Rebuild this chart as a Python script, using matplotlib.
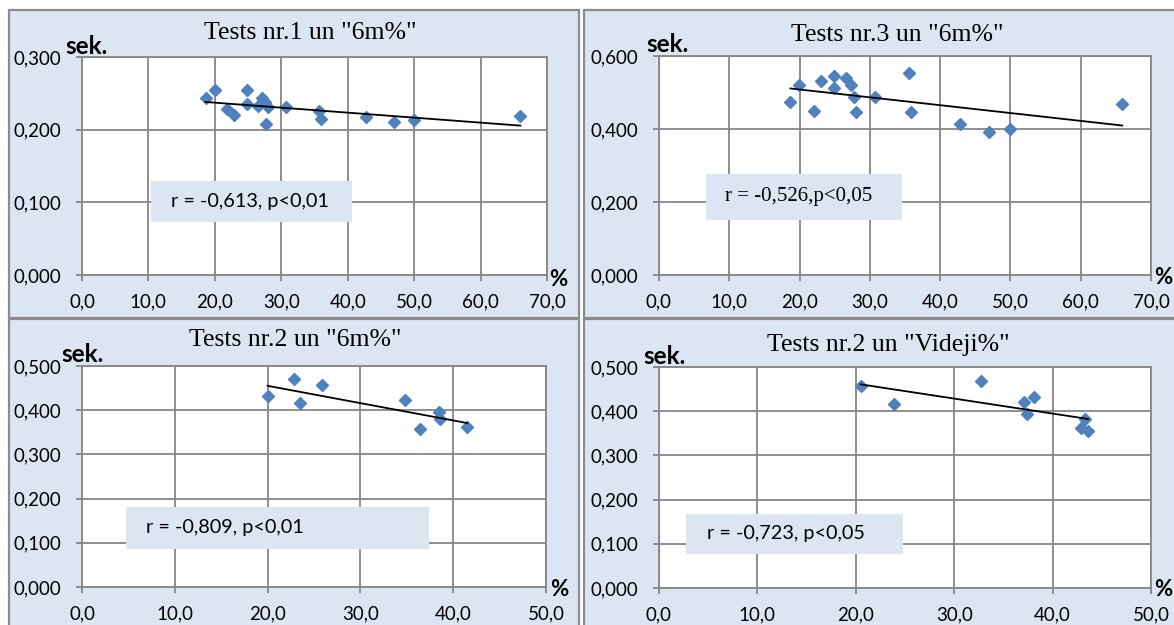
import numpy as np
import matplotlib
matplotlib.use("Agg")
import matplotlib.pyplot as plt
from matplotlib.patches import Rectangle

# ---- data -------------------------------------------------------------
# Test 1 vs "6m%"
x_t1 = [18.6, 20.0, 21.9, 22.9, 24.9, 24.9, 26.5, 27.1, 27.5, 27.7, 28.0, 30.7, 35.7, 36.0, 42.8, 47.0, 50.0, 66.0]
y_t1 = [0.243, 0.254, 0.229, 0.220, 0.254, 0.235, 0.232, 0.243, 0.238, 0.208, 0.231, 0.231, 0.226, 0.215, 0.217, 0.211, 0.213, 0.219]

# Test 3 vs "6m%"
x_t3 = [18.7, 19.9, 22.1, 23.0, 24.9, 24.9, 26.6, 27.3, 27.7, 28.0, 30.7, 35.6, 35.8, 42.8, 46.9, 49.9, 65.9]
y_t3 = [0.474, 0.521, 0.448, 0.531, 0.544, 0.513, 0.539, 0.521, 0.488, 0.447, 0.489, 0.553, 0.446, 0.413, 0.393, 0.399, 0.468]

# Test 2 vs "6m%"
x_t2 = [20.0, 22.8, 23.5, 25.9, 34.8, 36.4, 38.5, 38.6, 41.5]
y_t2 = [0.432, 0.471, 0.417, 0.458, 0.422, 0.357, 0.397, 0.381, 0.362]

# Test 2 vs "Videji%"
x_v2 = [20.5, 23.9, 32.7, 37.1, 37.4, 38.1, 42.9, 43.3, 43.6]
y_v2 = [0.456, 0.417, 0.469, 0.421, 0.394, 0.432, 0.361, 0.383, 0.356]

titles = ['Tests nr.1 un "6m%"', 'Tests nr.3 un "6m%"',
          'Tests nr.2 un "6m%"', 'Tests nr.2 un "Videji%"']
stats = ["r = -0,613, p<0,01", "r = -0,526,p<0,05",
         "r = -0,809, p<0,01", "r = -0,723, p<0,05"]
x_limits = [70, 70, 50, 50]
y_limits = [0.3, 0.6, 0.5, 0.5]
y_steps = [0.1, 0.2, 0.1, 0.1]

# ---- layout (pixels) --------------------------------------------------
W, H = 1174, 625
fig = plt.figure(figsize=(W / 100, H / 100), dpi=100)
fig.patch.set_facecolor("white")

PANEL_BG = "#DCE6F2"
BORDER = "#8C8C8C"
GRID = "#868686"
MARKER = "#4F81BD"
SANS = ["Lato", "DejaVu Sans"]
SERIF = ["Liberation Serif", "DejaVu Serif"]


def fx(x):
    return x / W


def fy(y):
    return 1 - y / H


frames = [(9, 10, 579, 318), (584, 10, 1185, 318),
          (9, 319, 579, 640), (584, 319, 1185, 640)]
plot_boxes = [(82, 57, 547, 275), (659, 56, 1151, 275),
              (82, 366, 546, 587), (659, 367, 1151, 588)]
title_pos = [(310, 33), (897, 35), (295, 340), (888, 345)]
sek_pos = [(65, 47), (646, 44), (61, 354), (643, 356)]
pct_pos = [(558, 280), (1163, 277), (559, 589), (1163, 590)]
stat_boxes = [(151, 181, 352, 222), (706, 174, 902, 220),
              (126, 507, 429, 549), (686, 514, 903, 554)]
stat_text_x = [171, 725, 146, 707]
stat_fonts = [SANS, SERIF, SANS, SANS]
stat_sizes = [14.3, 15, 14.3, 14.3]

for (x0, y0, x1, y1) in frames:
    fig.add_artist(Rectangle((fx(x0), fy(y1)), (x1 - x0) / W, (y1 - y0) / H,
                             transform=fig.transFigure, facecolor=PANEL_BG,
                             edgecolor=BORDER, lw=1.6, zorder=0))

series = [(x_t1, y_t1), (x_t3, y_t3), (x_t2, y_t2), (x_v2, y_v2)]

for i, (xs, ys) in enumerate(series):
    l, t, r, b = plot_boxes[i]
    ax = fig.add_axes([fx(l), fy(b), (r - l) / W, (b - t) / H])
    ax.set_facecolor("white")
    ax.set_xlim(0, x_limits[i])
    ax.set_ylim(0, y_limits[i])

    xt = np.arange(0, x_limits[i] + 0.01, 10)
    yt = np.arange(0, y_limits[i] + 1e-9, y_steps[i])
    ax.set_xticks(xt)
    ax.set_xticklabels([f"{v:.1f}".replace(".", ",") for v in xt])
    ax.set_yticks(yt)
    ax.set_yticklabels([f"{v:.3f}".replace(".", ",") for v in yt])
    for lab in ax.get_xticklabels() + ax.get_yticklabels():
        lab.set_family(SANS)
        lab.set_fontsize(13.5)
        lab.set_color("black")

    ax.grid(True, color=GRID, lw=1.3)
    ax.set_axisbelow(True)
    for sp in ax.spines.values():
        sp.set_color(GRID)
        sp.set_linewidth(1.3)
    ax.tick_params(axis="both", direction="out", length=4, width=1.3, color=GRID)
    ax.tick_params(axis="y", pad=11)
    ax.tick_params(axis="x", pad=9)

    ax.plot(xs, ys, linestyle="none", marker="D", ms=6.3,
            color=MARKER, mec=MARKER, zorder=3, clip_on=False)

    k, c = np.polyfit(xs, ys, 1)
    xl = np.array([min(xs), max(xs)])
    ax.plot(xl, k * xl + c, color="black", lw=1.3, zorder=4)

    # statistics box
    sx0, sy0, sx1, sy1 = stat_boxes[i]
    ax.add_patch(Rectangle((fx(sx0), fy(sy1)), (sx1 - sx0) / W, (sy1 - sy0) / H,
                           transform=fig.transFigure, facecolor=PANEL_BG,
                           edgecolor="none", zorder=5, clip_on=False))
    ax.text(fx(stat_text_x[i]), fy((sy0 + sy1) / 2), stats[i],
            transform=fig.transFigure, ha="left", va="center",
            family=stat_fonts[i], fontsize=stat_sizes[i], zorder=6)

    tx, ty = title_pos[i]
    fig.text(fx(tx), fy(ty), titles[i], ha="center", va="center",
             family=SERIF, fontsize=18.5)
    kx, ky = sek_pos[i]
    fig.text(fx(kx), fy(ky), "sek.", ha="left", va="center",
             family=SANS, fontweight="bold", fontsize=17.5)
    px, py = pct_pos[i]
    fig.text(fx(px), fy(py), "%", ha="center", va="center",
             family=SANS, fontweight="bold", fontsize=16)

fig.savefig("out.png", dpi=100, facecolor="white")
